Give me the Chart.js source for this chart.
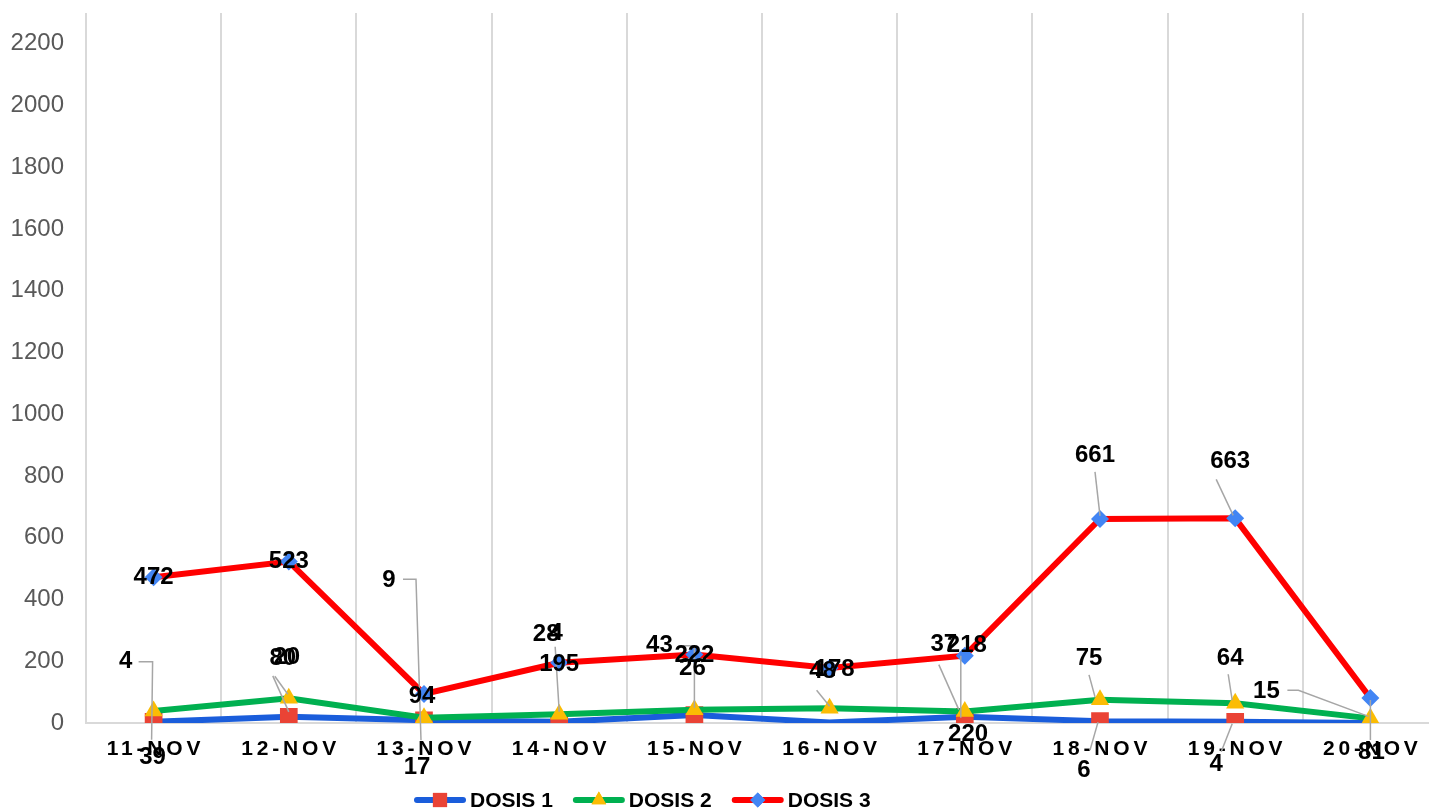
<!DOCTYPE html>
<html>
<head>
<meta charset="utf-8">
<script src="https://cdn.jsdelivr.net/npm/chart.js@4/dist/chart.umd.min.js"></script>
<style>
  html, body { margin: 0; padding: 0; background: #fff; overflow: hidden; }
  canvas { display: block; }
</style>
</head>
<body>
<!-- a little wider than the window: the plot runs past the right edge, as in the reference -->
<canvas id="chart" width="1438" height="810"></canvas>
<script>
// data
const days = ['11-NOV', '12-NOV', '13-NOV', '14-NOV', '15-NOV', '16-NOV', '17-NOV', '18-NOV', '19-NOV', '20-NOV'];
const dosis1 = [4, 20, 9, 4, 26, 2, 20, 6, 4, 0];
const dosis2 = [39, 80, 17, 28, 43, 48, 37, 75, 64, 15];
const dosis3 = [472, 523, 94, 195, 222, 178, 218, 661, 663, 81];
const yTicks = [0, 200, 400, 600, 800, 1000, 1200, 1400, 1600, 1800, 2000, 2200];
const seriesNames = ['DOSIS 1', 'DOSIS 2', 'DOSIS 3'];

// where each data label sits relative to its point (Excel-style dragged labels), plus leader lines
const spots = [
    [
        { at: [-28, -60], line: [[-15, -60], [-1, -60], [-2, 18]] },
        { at: [-2, -59], line: [[-16, -41], [0, -5]] },
        { at: [-35, -140], line: [[-21, -141], [-8, -141], [-3, 20]] },
        { at: [-3, -88], line: [[-4, -75], [0, -10]] },
        { at: [-2, -47] },
        { at: [125, 12] },
        { at: [10, 18] },
        { at: [-16, 49], line: [[-10, 29], [-2, 1]] },
        { at: [-19, 43], line: [[-14, 30], [-3, 2]] },
        null
    ],
    [
        { at: [-1, 46] },
        { at: [-6, -40], line: [[-14, -22], [-1, -4]] },
        { at: [-7, 50] },
        { at: [-13, -80] },
        { at: [-35, -64], line: [[-11, -64], [0, -64], [0, -2]] },
        { at: [-7, -37], line: [[-13, -18], [0, -2]] },
        { at: [-21, -67], line: [[-26, -47], [-6, -2]] },
        { at: [-11, -41], line: [[-11, -25], [-5, -3]] },
        { at: [-5, -45], line: [[-7, -29], [-3, -3]] },
        { at: [-104, -27], line: [[-83, -28], [-72, -28], [-2, -2]] }
    ],
    [
        { at: [0, 0] },
        { at: [0, 0] },
        { at: [-2, 2] },
        { at: [0, 2] },
        { at: [0, 1] },
        { at: [5, 1] },
        { at: [2, -10], line: [[-4, 0], [-4, 62]] },
        { at: [-5, -64], line: [[-5, -47], [0, -3]] },
        { at: [-5, -57], line: [[-19, -39], [-2, -3]] },
        { at: [1, 54], line: [[0, 2], [0, 42]] }
    ]
];

const lineColors = ['#1a5ddb', '#00b050', '#ff0000'];
const markerColors = ['#ea4335', '#fbbc04', '#4285f4'];
const markerStyles = ['rect', 'triangle', 'rectRot'];
const markerSizes = [12.5, 10.5, 9];
const legendSizes = [10, 8.5, 7.5];

const dataLabels = {
    id: 'dataLabels',
    afterDatasetsDraw(chart) {
        const ctx = chart.ctx;
        ctx.save();
        ctx.strokeStyle = '#a6a6a6';
        ctx.lineWidth = 1.5;
        chart.data.datasets.forEach((ds, i) => {
            const meta = chart.getDatasetMeta(i);
            meta.data.forEach((pt, j) => {
                const s = spots[i][j];
                if (!s || !s.line) return;
                ctx.beginPath();
                s.line.forEach((p, k) => {
                    if (k === 0) ctx.moveTo(pt.x + p[0], pt.y + p[1]);
                    else ctx.lineTo(pt.x + p[0], pt.y + p[1]);
                });
                ctx.stroke();
            });
        });
        ctx.fillStyle = '#000';
        ctx.font = 'bold 24px "Liberation Sans", Arial, sans-serif';
        ctx.textAlign = 'center';
        ctx.textBaseline = 'middle';
        chart.data.datasets.forEach((ds, i) => {
            const meta = chart.getDatasetMeta(i);
            meta.data.forEach((pt, j) => {
                const s = spots[i][j];
                if (!s) return;
                ctx.fillText(String(ds.data[j]), pt.x + s.at[0], pt.y + s.at[1]);
            });
        });
        ctx.restore();
    }
};

// legend: line sample with marker, then name
const lineLegend = {
    id: 'lineLegend',
    afterDraw(chart) {
        const ctx = chart.ctx;
        ctx.save();
        ctx.font = 'bold 21px "Liberation Sans", Arial, sans-serif';
        ctx.textBaseline = 'middle';
        ctx.textAlign = 'left';
        let x = 414;
        const y = 800;
        seriesNames.forEach((name, i) => {
            ctx.strokeStyle = lineColors[i];
            ctx.lineWidth = 6;
            ctx.lineCap = 'round';
            ctx.beginPath();
            ctx.moveTo(x + 3, y);
            ctx.lineTo(x + 49, y);
            ctx.stroke();
            ctx.fillStyle = markerColors[i];
            Chart.helpers.drawPoint(ctx, { pointStyle: markerStyles[i], radius: legendSizes[i], rotation: 0, borderWidth: 0 }, x + 26, y);
            ctx.fill();
            ctx.fillStyle = '#000';
            ctx.fillText(name, x + 56, y + 1);
            x += 56 + ctx.measureText(name).width + 20;
        });
        ctx.restore();
    }
};

const ctx = document.getElementById('chart').getContext('2d');
const values = [dosis1, dosis2, dosis3];
const chart = new Chart(ctx, {
    type: 'line',
    data: {
        labels: days,
        datasets: seriesNames.map((name, i) => ({
            label: name,
            data: values[i],
            borderColor: lineColors[i],
            borderWidth: 6,
            tension: 0,
            pointStyle: markerStyles[i],
            pointRadius: i === 0 ? (c => (c.dataIndex === 5 || c.dataIndex === 9) ? 0 : markerSizes[0]) : markerSizes[i],
            pointBackgroundColor: markerColors[i],
            pointBorderWidth: 0,
            order: 2 - i
        }))
    },
    options: {
        responsive: false,
        animation: false,
        layout: { autoPadding: false, padding: { top: 13, right: 0, bottom: 40, left: 0 } },
        scales: {
            x: {
                offset: true,
                grid: { offset: true, color: '#d9d9d9', lineWidth: 2, drawTicks: false },
                border: { color: '#d9d9d9', width: 2 },
                ticks: {
                    color: '#000',
                    padding: 14,
                    maxRotation: 0,
                    font: { family: '"Liberation Sans Narrow", "Liberation Sans", Arial, sans-serif', size: 21, weight: 'bold' }
                },
                afterFit: scale => {
                    scale.height = 47;
                    scale.paddingLeft = 0;
                    scale.paddingRight = 0;
                }
            },
            y: {
                min: 0,
                max: 2300,
                grid: { display: false, drawTicks: false },
                border: { display: false },
                ticks: {
                    color: '#595959',
                    padding: 22,
                    font: { family: '"Liberation Sans", Arial, sans-serif', size: 24 },
                    callback: v => String(v)
                },
                afterBuildTicks: scale => { scale.ticks = yTicks.map(v => ({ value: v })); },
                afterFit: scale => {
                    scale.width = 86;
                    scale.paddingTop = 0;
                    scale.paddingBottom = 0;
                }
            }
        },
        plugins: {
            legend: { display: false },
            tooltip: { enabled: false }
        }
    },
    plugins: [dataLabels, lineLegend]
});

// spaced-out letters on the category labels
const xScale = chart.scales.x;
const origDrawLabels = xScale.drawLabels;
xScale.drawLabels = function (area) {
    this.ctx.save();
    this.ctx.letterSpacing = '3.8px';
    this.ctx.translate(1.9, 0);
    origDrawLabels.call(this, area);
    this.ctx.restore();
};
chart.draw();
</script>
</body>
</html>
